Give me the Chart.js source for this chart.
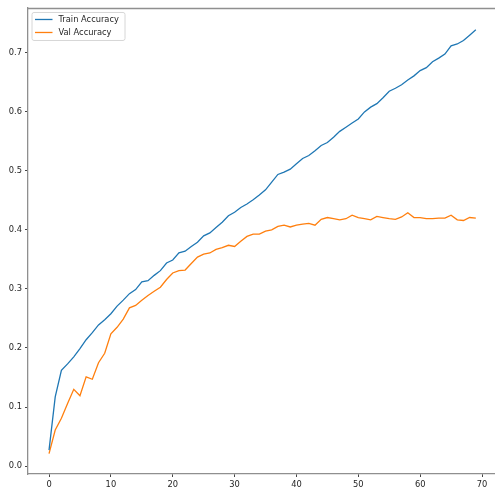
<!DOCTYPE html>
<html>
<head>
<meta charset="utf-8">
<script src="https://cdn.jsdelivr.net/npm/chart.js@4/dist/chart.umd.min.js"></script>
<style>
  html, body { margin: 0; padding: 0; background: #fff; }
  #wrap { width: 495px; height: 489px; }
</style>
</head>
<body>
<div id="wrap"><canvas id="accChart" width="495" height="489"></canvas></div>
<script>
'use strict';

// epochs on the x axis
let epochs = [
  0, 1, 2, 3, 4, 5, 6, 7, 8, 9,
  10, 11, 12, 13, 14, 15, 16, 17, 18, 19,
  20, 21, 22, 23, 24, 25, 26, 27, 28, 29,
  30, 31, 32, 33, 34, 35, 36, 37, 38, 39,
  40, 41, 42, 43, 44, 45, 46, 47, 48, 49,
  50, 51, 52, 53, 54, 55, 56, 57, 58, 59,
  60, 61, 62, 63, 64, 65, 66, 67, 68, 69
];

let trainAcc = [
  0.027, 0.117, 0.162, 0.173, 0.185, 0.199, 0.214, 0.226, 0.239, 0.248,
  0.258, 0.271, 0.281, 0.292, 0.299, 0.312, 0.314, 0.323, 0.331, 0.344,
  0.349, 0.361, 0.364, 0.372, 0.379, 0.390, 0.395, 0.404, 0.413, 0.424,
  0.430, 0.438, 0.444, 0.451, 0.459, 0.468, 0.481, 0.494, 0.498, 0.503,
  0.512, 0.521, 0.526, 0.534, 0.543, 0.548, 0.557, 0.567, 0.574, 0.581,
  0.588, 0.600, 0.608, 0.614, 0.624, 0.635, 0.640, 0.646, 0.654, 0.661,
  0.670, 0.675, 0.685, 0.691, 0.698, 0.712, 0.715, 0.721, 0.730, 0.739
];

let valAcc = [
  0.021, 0.061, 0.081, 0.106, 0.130, 0.119, 0.151, 0.147, 0.175, 0.191,
  0.224, 0.235, 0.249, 0.268, 0.272, 0.281, 0.289, 0.296, 0.303, 0.316,
  0.327, 0.331, 0.332, 0.343, 0.354, 0.359, 0.361, 0.367, 0.370, 0.374,
  0.372, 0.381, 0.389, 0.393, 0.393, 0.398, 0.400, 0.406, 0.408, 0.405,
  0.408, 0.410, 0.411, 0.408, 0.418, 0.421, 0.419, 0.417, 0.419, 0.425,
  0.421, 0.419, 0.417, 0.423, 0.421, 0.419, 0.418, 0.422, 0.429, 0.421,
  0.421, 0.419, 0.419, 0.420, 0.420, 0.425, 0.417, 0.416, 0.421, 0.420
];

let seriesNames = ['Train Accuracy', 'Val Accuracy'];
let xTicks = [0, 10, 20, 30, 40, 50, 60, 70];
let yTicks = [0.0, 0.1, 0.2, 0.3, 0.4, 0.5, 0.6, 0.7];

const FONT = '"DejaVu Sans", sans-serif';
const TEXT = '#262626';
const SPINE = '#8f8f8f';

function toPoints(values) {
  let pts = [];
  for (let i = 0; i < values.length; i++) {
    pts.push({ x: epochs[i], y: values[i] });
  }
  return pts;
}

// top spine (right one falls outside the canvas)
const frame = {
  id: 'frame',
  afterDraw(chart) {
    const ctx = chart.ctx;
    const a = chart.chartArea;
    ctx.save();
    ctx.strokeStyle = SPINE;
    ctx.lineWidth = 1.3;
    ctx.beginPath();
    ctx.moveTo(a.left, a.top + 0.5);
    ctx.lineTo(chart.width, a.top + 0.5);
    ctx.stroke();
    ctx.restore();
  }
};

// boxed legend in the upper left corner
const boxLegend = {
  id: 'boxLegend',
  afterDraw(chart) {
    const ctx = chart.ctx;
    const a = chart.chartArea;
    let x = a.left + 4;
    let y = a.top + 4.5;
    let w = 93;
    let h = 28;
    ctx.save();
    ctx.fillStyle = 'rgba(255,255,255,0.8)';
    ctx.strokeStyle = '#d6d6d6';
    ctx.lineWidth = 1;
    ctx.beginPath();
    ctx.roundRect(x, y, w, h, 2);
    ctx.fill();
    ctx.stroke();
    ctx.font = '8.3px ' + FONT;
    ctx.textBaseline = 'middle';
    ctx.fillStyle = TEXT;
    chart.data.datasets.forEach(function(ds, i) {
      let ly = y + 7 + i * 13;
      ctx.strokeStyle = ds.borderColor;
      ctx.lineWidth = 1.3;
      ctx.beginPath();
      ctx.moveTo(x + 3, ly);
      ctx.lineTo(x + 20.5, ly);
      ctx.stroke();
      ctx.fillText(ds.label, x + 26.5, ly + 0.5);
    });
    ctx.restore();
  }
};

new Chart(document.getElementById('accChart'), {
  type: 'line',
  data: {
    datasets: [
      {
        label: seriesNames[0],
        data: toPoints(trainAcc),
        borderColor: '#1f77b4',
        borderWidth: 1.3,
        pointRadius: 0,
        tension: 0,
        fill: false
      },
      {
        label: seriesNames[1],
        data: toPoints(valAcc),
        borderColor: '#ff7f0e',
        borderWidth: 1.3,
        pointRadius: 0,
        tension: 0,
        fill: false
      }
    ]
  },
  options: {
    responsive: false,
    animation: false,
    layout: { padding: { top: 7, right: 0, left: 0, bottom: 0 } },
    plugins: {
      legend: { display: false },
      tooltip: { enabled: false }
    },
    scales: {
      x: {
        type: 'linear',
        min: -3.4,
        max: 72.1,
        afterBuildTicks: function(scale) {
          scale.ticks = xTicks.map(v => ({ value: v }));
        },
        afterFit: function(scale) { scale.height = 15; },
        grid: { drawOnChartArea: false, drawTicks: true, tickLength: 3, color: '#444' },
        border: { display: true, color: SPINE, width: 1.3 },
        ticks: {
          padding: 3,
          maxRotation: 0,
          autoSkip: false,
          color: TEXT,
          font: { family: FONT, size: 8.3 },
          callback: v => String(v)
        }
      },
      y: {
        min: -0.0135,
        max: 0.776,
        afterBuildTicks: function(scale) {
          scale.ticks = yTicks.map(v => ({ value: v }));
        },
        afterFit: function(scale) { scale.width = 28; },
        grid: { drawOnChartArea: false, drawTicks: true, tickLength: 3, color: '#444' },
        border: { display: true, color: SPINE, width: 1.3 },
        ticks: {
          padding: 3,
          autoSkip: false,
          color: TEXT,
          font: { family: FONT, size: 8.3 },
          callback: v => v.toFixed(1)
        }
      }
    }
  },
  plugins: [frame, boxLegend]
});
</script>
</body>
</html>
